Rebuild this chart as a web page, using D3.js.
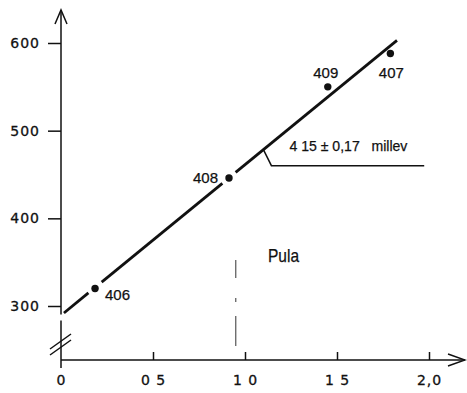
<!DOCTYPE html>
<html>
<head>
<meta charset="utf-8">
<script src="https://cdn.jsdelivr.net/npm/d3@7"></script>
<style>
  body { margin: 0; background: #fff; }
  svg { display: block; }
  .tick text { font-family: "DejaVu Sans", sans-serif; font-size: 14px; letter-spacing: 1px; fill: #111; stroke: #111; stroke-width: 0.3; }
  .lbl { font-family: "Liberation Sans", sans-serif; fill: #111; stroke: #111; stroke-width: 0.25; }
</style>
</head>
<body>
<div id="chart"></div>
<script>
// measured points (label, x, y)
const pointLabels = ['406', '408', '409', '407']
const pointX = [0.185, 0.913, 1.45, 1.79]
const pointY = [320, 446, 550, 588]

// fitted straight line
const fitIntercept = 289.3
const fitSlope = 171.8
const fitRange = [0.016, 1.826]

const xTicks = [0, 0.5, 1, 1.5, 2]
const xTickLabels = ['0', '0 5', '1 0', '1 5', '2,0']
const yTicks = [300, 400, 500, 600]

const W = 467, H = 393

const svg = d3.select('#chart').append('svg')
  .attr('width', W)
  .attr('height', H)

const x = d3.scaleLinear().domain([0, 2]).range([61, 429])
const y = d3.scaleLinear().domain([300, 600]).range([306, 43])
const y0 = y.invert(360)   // where the x axis sits (axis is broken below 300)
const yTop = y.invert(10)
const xEnd = x.invert(465)

const fit = v => fitIntercept + fitSlope * v

// axes lines (custom, with break)
const ax = svg.append('g').attr('stroke', '#111').attr('fill', 'none').attr('stroke-width', 1.5)
ax.append('line').attr('x1', x(0)).attr('x2', x(0)).attr('y1', y(yTop)).attr('y2', y(fit(0)) - 1)
ax.append('line').attr('x1', x(0)).attr('x2', x(0)).attr('y1', y(fit(0)) + 5).attr('y2', y(y0) + 8)
ax.append('line').attr('x1', x(0)).attr('x2', x(xEnd)).attr('y1', y(y0)).attr('y2', y(y0))
// arrow heads
ax.append('path').attr('d', `M${x(0) - 6},${y(yTop) + 14}L${x(0)},${y(yTop)}L${x(0) + 6},${y(yTop) + 14}`)
ax.append('path').attr('d', `M${x(xEnd) - 17},${y(y0) - 6}L${x(xEnd)},${y(y0)}L${x(xEnd) - 17},${y(y0) + 6}`)
// break marks
;[0, 6].forEach(o => {
  ax.append('line')
    .attr('x1', x(0) - 11).attr('y1', 349 + o)
    .attr('x2', x(0) + 10).attr('y2', 334 + o)
})

// tick marks and labels via d3 axes
const yAxis = d3.axisLeft(y).tickValues(yTicks).tickSizeInner(13).tickSizeOuter(0).tickPadding(8)
const gy = svg.append('g').attr('transform', `translate(${x(0)},0)`).call(yAxis)
gy.select('.domain').remove()
gy.selectAll('.tick line').attr('stroke', '#111').attr('stroke-width', 1.5)

const xAxis = d3.axisBottom(x).tickValues(xTicks).tickSizeInner(-8).tickSizeOuter(0).tickPadding(15)
  .tickFormat((d, i) => xTickLabels[i])
const gx = svg.append('g').attr('transform', `translate(0,${y(y0)})`).call(xAxis)
gx.select('.domain').remove()
gx.selectAll('.tick line').attr('stroke', '#111').attr('stroke-width', 1.5)
gx.selectAll('.tick').filter(d => d === 0).select('line').remove()

// fit line, broken around points lying on it
const gap = 0.036
const onLine = [0, 1]
let cuts = [fitRange[0]]
onLine.forEach(i => { cuts.push(pointX[i] - gap, pointX[i] + gap) })
cuts.push(fitRange[1])
for (let k = 0; k < cuts.length; k += 2) {
  svg.append('line')
    .attr('x1', x(cuts[k])).attr('y1', y(fit(cuts[k])))
    .attr('x2', x(cuts[k + 1])).attr('y2', y(fit(cuts[k + 1])))
    .attr('stroke', '#111').attr('stroke-width', 2.8)
}

// points
const pts = pointX.map((v, i) => ({ x: v, y: pointY[i], label: pointLabels[i] }))
svg.selectAll('circle.pt').data(pts).enter().append('circle')
  .attr('class', 'pt')
  .attr('cx', d => x(d.x)).attr('cy', d => y(d.y)).attr('r', 3.7)
  .attr('fill', '#111')

const labelOffset = [[10, 12, 'start'], [-11, 5, 'end'], [-2, -9, 'middle'], [1, 24, 'middle']]
svg.selectAll('text.pl').data(pts).enter().append('text')
  .attr('class', 'lbl pl')
  .attr('x', (d, i) => x(d.x) + labelOffset[i][0])
  .attr('y', (d, i) => y(d.y) + labelOffset[i][1])
  .attr('text-anchor', (d, i) => labelOffset[i][2])
  .attr('font-size', 15)
  .text(d => d.label)

// slope annotation
const annX = 1.1
svg.append('path')
  .attr('d', `M${x(annX)},${y(fit(annX))}L${x(annX) + 8},${y(fit(annX)) + 16}L${x(1.974)},${y(fit(annX)) + 16}`)
  .attr('fill', 'none').attr('stroke', '#111').attr('stroke-width', 1.5)
svg.append('text').attr('class', 'lbl')
  .attr('x', x(annX) + 26).attr('y', y(fit(annX)) + 1)
  .attr('font-size', 15)
  .attr('textLength', 118).attr('lengthAdjust', 'spacingAndGlyphs')
  .attr('xml:space', 'preserve')
  .text('4 15 \u00b1 0,17   millev')

// Pula marker
const pulaX = 0.95
svg.append('line')
  .attr('x1', x(pulaX)).attr('x2', x(pulaX))
  .attr('y1', y(y0) - 100).attr('y2', y(y0) - 2)
  .attr('stroke', '#333').attr('stroke-width', 1).attr('stroke-dasharray', '18,20,4,14,30,12')
svg.append('text').attr('class', 'lbl')
  .attr('x', 268).attr('y', 262)
  .attr('font-size', 19)
  .attr('textLength', 31).attr('lengthAdjust', 'spacingAndGlyphs')
  .text('Pula')
</script>
</body>
</html>
